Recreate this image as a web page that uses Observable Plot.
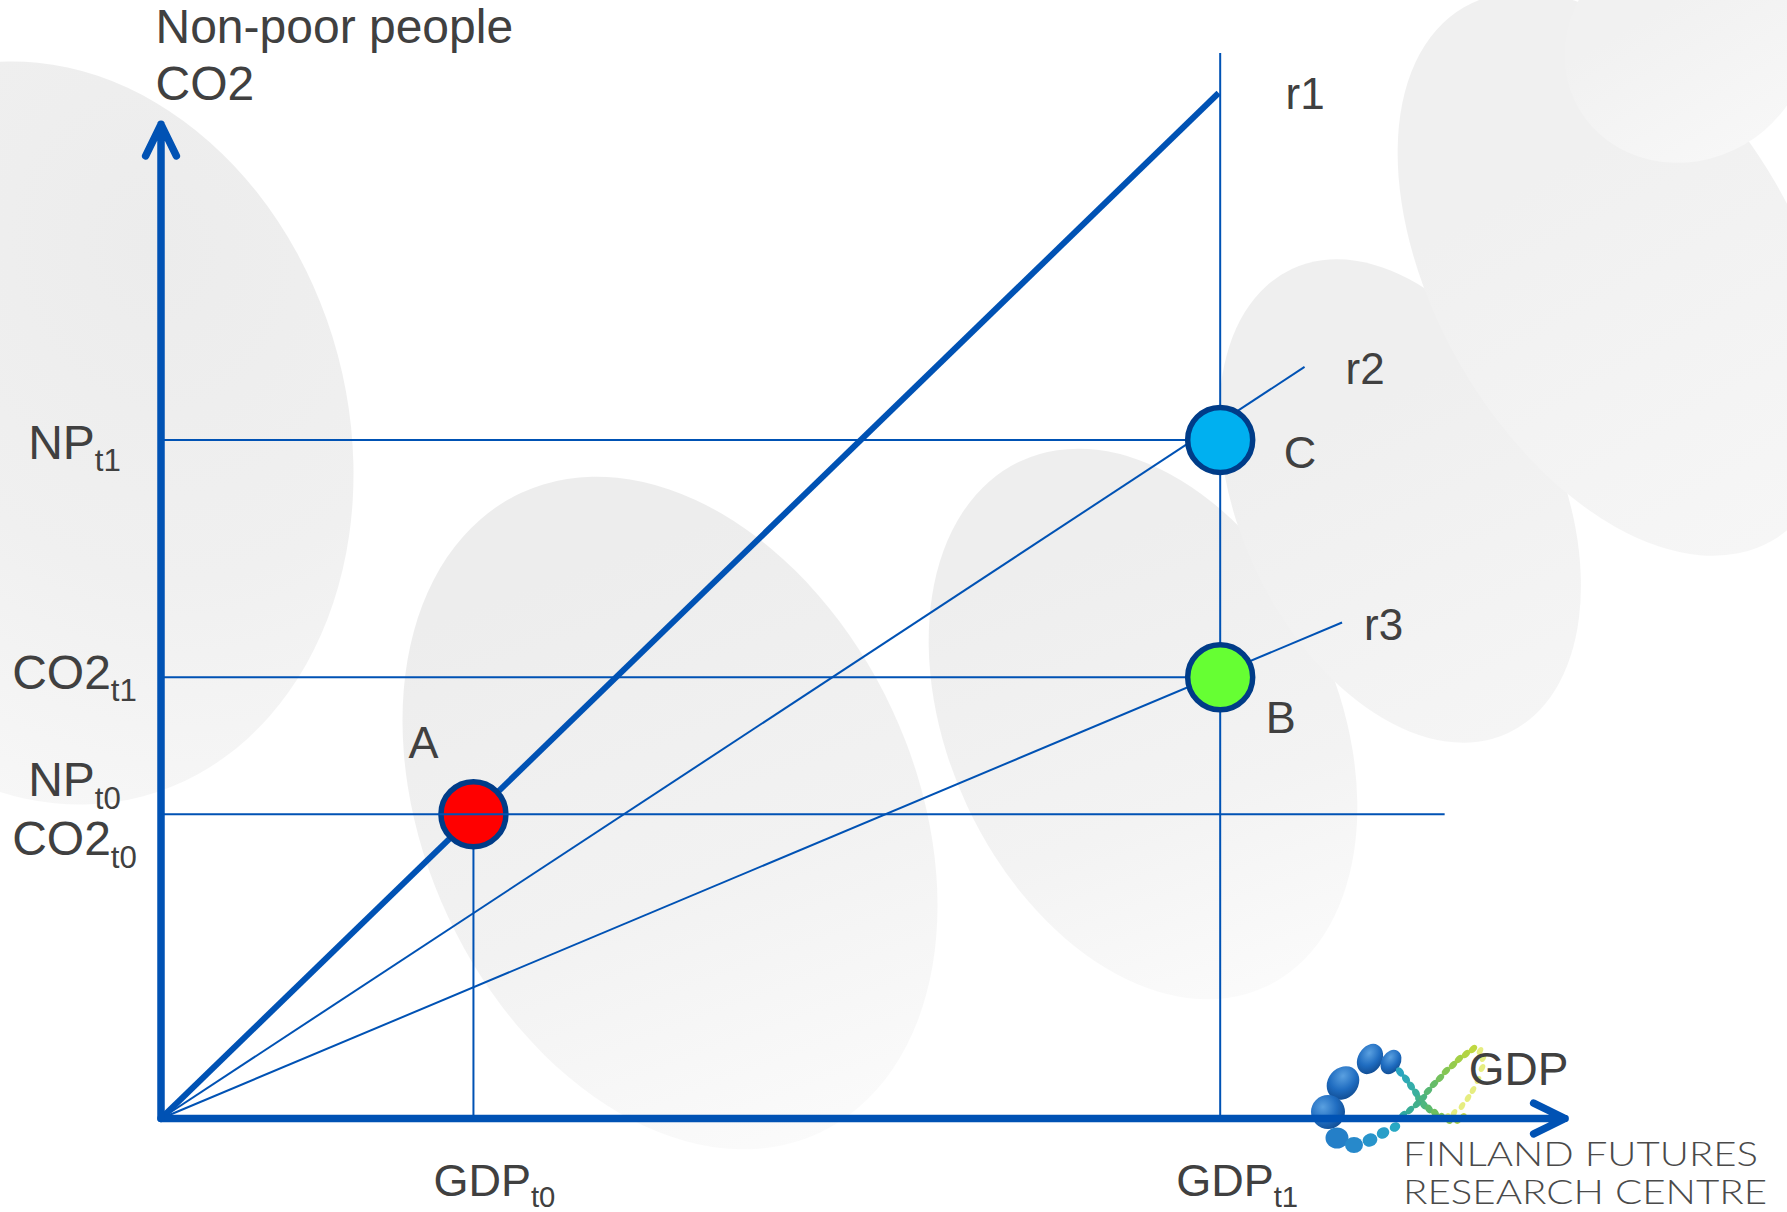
<!DOCTYPE html>
<html>
<head>
<meta charset="utf-8">
<script src="https://cdn.jsdelivr.net/npm/d3@7"></script>
<script src="https://cdn.jsdelivr.net/npm/@observablehq/plot@0.6"></script>
<style>
  html, body { margin: 0; padding: 0; background: #fff; }
  #wrap { position: relative; width: 1787px; height: 1212px; overflow: hidden; background: #fff; }
  .blob { position: absolute; border-radius: 50%; }
  #logo, #chart { position: absolute; left: 0; top: 0; }
</style>
</head>
<body>
<div id="wrap">
  <div id="bg"></div>
  <svg id="logo" width="1787" height="1212"></svg>
  <div id="chart"></div>
</div>
<script>
// ---------------- data ----------------
const periods = ["t0", "t1"];
const gdp = [1, 3.39];            // GDP_t0, GDP_t1
const nonPoor = [1, 2.23];        // NP_t0, NP_t1
const co2 = [1, 1.45];            // CO2_t0, CO2_t1
const pointNames = ["A", "C", "B"];
const rayNames = ["r1", "r2", "r3"];
const rayEndGdp = [3.385, 3.66, 3.78];
const rayEndLevel = [3.37, 2.47, 1.63];
const yTickLabels = ["NP_t1", "CO2_t1", "NP_t0", "CO2_t0"];
const xTickLabels = ["GDP_t0", "GDP_t1"];
const yTitle = ["Non-poor people", "CO2"];
const xTitle = "GDP";
const axisEndGdp = 4.494;
const axisEndLevel = 3.267;
const baseGuideEndGdp = 4.11;
const gdpT1GuideTop = 3.5;
const logoLines = ["FINLAND FUTURES", "RESEARCH CENTRE"];

// ---------------- styles ----------------
const W = 1787, H = 1212;
const blue = "#0052b4";
const ink = "#404040";
const font = "'Liberation Sans', Arial, Helvetica, sans-serif";
const pointFill = {A: "#ff0000", C: "#00b0f0", B: "#66ff33"};

// ---------------- derived tables ----------------
const points = [
  {name: pointNames[0], x: gdp[0], y: co2[0]},
  {name: pointNames[1], x: gdp[1], y: nonPoor[1]},
  {name: pointNames[2], x: gdp[1], y: co2[1]}
];
const rays = rayNames.map((name, i) => ({name, x: rayEndGdp[i], y: rayEndLevel[i]}));
const yTicks = [
  {label: yTickLabels[0], y: nonPoor[1]},
  {label: yTickLabels[1], y: co2[1]},
  {label: yTickLabels[2], y: nonPoor[0]},
  {label: yTickLabels[3], y: co2[0]}
];
const xTicks = xTickLabels.map((label, i) => ({label, x: gdp[i]}));
const hGuides = [{y: nonPoor[1], x2: gdp[1]}, {y: co2[1], x2: gdp[1]}];
const hGuideBase = [{y: co2[0], x2: baseGuideEndGdp}];
const vGuides = [{x: gdp[0], y2: co2[0]}, {x: gdp[1], y2: gdpT1GuideTop}];

// label offsets (pixels)
const pointLabelOffset = {A: [-65, -71], C: [63.5, 14], B: [45.5, 41]};
const rayLabelOffset = {r1: [67, 1.5], r2: [41, 3], r3: [22, 3.2]};
const yTickOffset = [3.3, -3.7, -33.5, 25.5];
const xTickDx = [21, 17];

const txt = {fill: ink, fontFamily: font};

const plot = Plot.plot({
  width: W,
  height: H,
  marginLeft: 160.5,
  marginRight: 220.5,
  marginTop: 22.5,
  marginBottom: 94,
  x: {domain: [0, 4.5], axis: null},
  y: {domain: [0, 3.6], axis: null},
  style: {background: "transparent", fontFamily: font, overflow: "visible"},
  marks: [
    Plot.ruleY(hGuides, {y: "y", x1: 0, x2: "x2", stroke: blue, strokeWidth: 2}),
    Plot.ruleX(vGuides, {x: "x", y1: 0, y2: "y2", stroke: blue, strokeWidth: 2}),
    Plot.link(rays.slice(1), {x1: 0, y1: 0, x2: "x", y2: "y", stroke: blue, strokeWidth: 2}),
    Plot.link(rays.slice(0, 1), {x1: 0, y1: 0, x2: "x", y2: "y", stroke: blue, strokeWidth: 6}),
    Plot.dot(points, {x: "x", y: "y", r: 32.5, fill: d => pointFill[d.name], stroke: "#003c88", strokeWidth: 5.5}),
    Plot.ruleY(hGuideBase, {y: "y", x1: 0, x2: "x2", stroke: blue, strokeWidth: 2}),
    Plot.arrow([axisEndGdp], {x1: 0, y1: 0, x2: d => d, y2: 0, stroke: blue, strokeWidth: 7.5, headLength: 7, headAngle: 52}),
    Plot.arrow([axisEndLevel], {x1: 0, y1: 0, x2: 0, y2: d => d, stroke: blue, strokeWidth: 7.5, headLength: 7, headAngle: 52}),
    ...points.map(p => Plot.text([p], {x: "x", y: "y", text: "name", textAnchor: "start", fontSize: 45,
      dx: pointLabelOffset[p.name][0], dy: pointLabelOffset[p.name][1], ...txt})),
    ...rays.map(r => Plot.text([r], {x: "x", y: "y", text: "name", textAnchor: "start", fontSize: 44,
      dx: rayLabelOffset[r.name][0], dy: rayLabelOffset[r.name][1], ...txt})),
    ...yTicks.map((t, i) => Plot.text([t], {x: 0, y: "y", text: "label", textAnchor: "middle", fontSize: 48,
      dx: -86.5, dy: yTickOffset[i], ...txt})),
    ...xTicks.map((t, i) => Plot.text([t], {x: "x", y: 0, text: "label", textAnchor: "middle", fontSize: 45,
      dx: xTickDx[i], dy: 62.7, ...txt})),
    Plot.text([yTitle.join("\n")], {frameAnchor: "top-left", text: d => d, textAnchor: "start", lineAnchor: "top",
      lineHeight: 1.1875, fontSize: 48, dx: -5.5, dy: -20, ...txt}),
    Plot.text([xTitle], {x: axisEndGdp, y: 0, text: d => d, textAnchor: "end", fontSize: 46, dx: 3.4, dy: -47.8, ...txt})
  ]
});

// subscripts: "NP_t1" -> NP + subscript t1
d3.select(plot).selectAll("text").each(function () {
  const s = this.textContent;
  if (!s.includes("_") || this.querySelector("tspan")) return;
  const [main, sub] = s.split("_");
  this.textContent = "";
  const sel = d3.select(this);
  sel.append("tspan").text(main);
  sel.append("tspan").attr("font-size", "0.65em").attr("dy", "0.4em").text(sub);
});
document.getElementById("chart").appendChild(plot);

// ---------------- decorative background blobs ----------------
const blobs = [
  {cx: 46, cy: 433, rx: 302, ry: 376, rot: -15, g: "radial-gradient(ellipse at 75% 30%, #ececec 0%, #f0f0f0 45%, #f7f7f7 80%, #fcfcfc 100%)"},
  {cx: 670, cy: 813, rx: 245, ry: 353, rot: -25, g: "linear-gradient(185deg, #ededed 15%, #f2f2f2 60%, #fbfbfb 100%)"},
  {cx: 1143, cy: 724, rx: 194, ry: 290, rot: -25, g: "linear-gradient(185deg, #eeeeee 20%, #f3f3f3 65%, #fbfbfb 100%)"},
  {cx: 1400, cy: 501, rx: 160, ry: 256, rot: -25, g: "linear-gradient(180deg, #efefef 30%, #f5f5f5 100%)"},
  {cx: 1618, cy: 274, rx: 182, ry: 308, rot: -30, g: "linear-gradient(180deg, #f0f0f0 30%, #f6f6f6 100%)"},
  {cx: 1687, cy: 46, rx: 125, ry: 114, rot: -30, g: "linear-gradient(180deg, #f1f1f1 30%, #f7f7f7 100%)"}
];
const bg = d3.select("#bg");
blobs.forEach(b => {
  bg.append("div").attr("class", "blob")
    .style("left", (b.cx - b.rx) + "px").style("top", (b.cy - b.ry) + "px")
    .style("width", 2 * b.rx + "px").style("height", 2 * b.ry + "px")
    .style("transform", `rotate(${b.rot}deg)`).style("background", b.g);
});

// ---------------- logo (decoration) ----------------
const logo = d3.select("#logo");
const defs = logo.append("defs");
const rg = defs.append("radialGradient").attr("id", "ball").attr("cx", "35%").attr("cy", "35%").attr("r", "70%");
rg.append("stop").attr("offset", "0%").attr("stop-color", "#5aa0e0");
rg.append("stop").attr("offset", "60%").attr("stop-color", "#1f6cc0");
rg.append("stop").attr("offset", "100%").attr("stop-color", "#124f96");
const big = [
  [1370, 1059, 12, 16, 30], [1391, 1062, 9.5, 13, 30],
  [1343, 1083, 15, 18, 40], [1328, 1112, 17, 17, 0],
  [1337, 1138, 11.5, 10.5, 0], [1354, 1145, 9, 8, 0],
  [1370, 1140, 7.5, 6.5, -20], [1383, 1133, 6.5, 5.5, -30],
  [1395, 1127, 5.5, 4.5, -30]
];
const chainA = [[1400,1072],[1406,1079],[1411,1086],[1416,1093],[1419,1099],[1424,1105],[1429,1109],[1435,1113],[1442,1117],[1449,1120],[1457,1120],[1464,1117]];
const chainB = [[1403,1115],[1410,1110],[1417,1104],[1423,1098],[1428,1091],[1434,1084],[1440,1078],[1446,1071],[1453,1065],[1459,1059],[1466,1054],[1473,1049]];
const chainC = [[1447,1117],[1454,1113],[1462,1106],[1468,1098],[1473,1090],[1478,1080],[1482,1068],[1483,1058],[1480,1051]];
const colA = d3.interpolateRgbBasis(["#2aa5c0", "#3ab39a", "#6cbd50", "#c8d840"]);
const colB = d3.interpolateRgbBasis(["#30a8a0", "#4db57a", "#8cc84a", "#c0d840"]);
const colBig = d3.interpolateRgbBasis(["#1f6cc0", "#1d6ec0", "#2a8ed0", "#28a8c4"]);
big.forEach(([x, y, rx, ry, r], i) => logo.append("ellipse").attr("cx", x).attr("cy", y).attr("rx", rx).attr("ry", ry)
  .attr("transform", `rotate(${r} ${x} ${y})`).attr("fill", i < 4 ? "url(#ball)" : colBig(i / (big.length - 1))));
chainA.forEach(([x, y], i) => logo.append("ellipse").attr("cx", x).attr("cy", y).attr("rx", 5.2 - i * 0.12).attr("ry", 3.5)
  .attr("transform", `rotate(55 ${x} ${y})`).attr("fill", colA(i / (chainA.length - 1))));
chainB.forEach(([x, y], i) => logo.append("ellipse").attr("cx", x).attr("cy", y).attr("rx", 4.8).attr("ry", 3.2)
  .attr("transform", `rotate(-45 ${x} ${y})`).attr("fill", colB(i / (chainB.length - 1))));
chainC.forEach(([x, y]) => logo.append("ellipse").attr("cx", x).attr("cy", y).attr("rx", 4.2).attr("ry", 2.8)
  .attr("transform", `rotate(-60 ${x} ${y})`).attr("fill", "#e2ea6a").attr("opacity", 0.85));
logo.append("text").attr("x", 1403).attr("y", 1166).attr("textLength", 355).attr("lengthAdjust", "spacingAndGlyphs")
  .attr("font-family", "Lato, 'Open Sans', sans-serif").attr("font-weight", 300).attr("font-size", 34)
  .attr("fill", "#4a4a4a").text(logoLines[0]);
logo.append("text").attr("x", 1403).attr("y", 1204).attr("textLength", 364).attr("lengthAdjust", "spacingAndGlyphs")
  .attr("font-family", "Lato, 'Open Sans', sans-serif").attr("font-weight", 300).attr("font-size", 34)
  .attr("fill", "#4a4a4a").text(logoLines[1]);
</script>
</body>
</html>
